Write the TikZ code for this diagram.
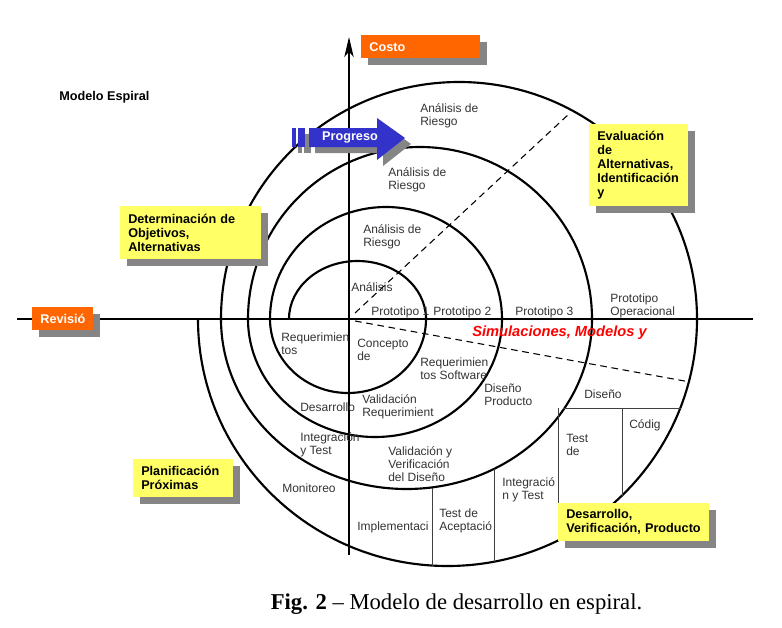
\documentclass[tikz,border=0pt]{standalone}
\usepackage{fontspec}
\setmainfont{Liberation Serif}
\setsansfont{Liberation Sans}
\usetikzlibrary{arrows.meta,shadows}
\definecolor{naranja}{HTML}{FF6600}
\definecolor{amarillo}{HTML}{FFFF66}
\definecolor{azul}{HTML}{3333CC}
\definecolor{sombra}{HTML}{858585}

\begin{document}
\begin{tikzpicture}[x=0.75pt, y=-0.75pt,
  espiral/.style={line width=1.6pt},
  tabla/.style={line width=0.6pt, black!75},
  guia/.style={line width=0.8pt, dash pattern=on 5pt off 3.5pt},
  lbl/.style={anchor=west, inner sep=0pt, align=left, text=black!80,
    font=\sffamily\fontsize{9}{9.8}\selectfont},
  caja/.style={anchor=north west, inner xsep=6pt, inner ysep=0pt, align=left,
    font=\sffamily\bfseries\fontsize{9.5}{10.6}\selectfont,
    drop shadow={shadow xshift=5pt, shadow yshift=-5pt, fill=sombra, opacity=1}},
  amarilla/.style={caja, fill=amarillo},
  naranjo/.style={caja, fill=naranja, text=white}]
\useasboundingbox (0,0) rectangle (782,628);

% ejes
\coordinate (o) at (349,319);
\coordinate (ejeArriba) at (349,37);
\coordinate (ejeAbajo) at (349,555);
\coordinate (ejeIzq) at (17,319);
\coordinate (ejeDer) at (753,319);
\draw[line width=1.5pt] (ejeIzq) -- (ejeDer);
\draw[line width=1.5pt, -{Stealth[length=15pt, width=7pt, inset=4pt]}] (ejeAbajo) -- (ejeArriba);

% espiral
\draw[espiral] (289,319) arc[start angle=180, end angle=360, x radius=68.5, y radius=58]
  arc[start angle=0, end angle=180, x radius=78, y radius=74]
  arc[start angle=180, end angle=360, x radius=116, y radius=112]
  arc[start angle=0, end angle=180, x radius=127, y radius=118]
  arc[start angle=180, end angle=360, x radius=172, y radius=172]
  arc[start angle=0, end angle=180, x radius=185.5, y radius=170]
  arc[start angle=180, end angle=360, x radius=238, y radius=237]
  arc[start angle=0, end angle=180, x radius=249.5, y radius=247];

% divisiones
\coordinate (d1a) at (355,313);
\coordinate (d1b) at (570,113);
\coordinate (d2a) at (355,321);
\coordinate (d2b) at (690,382);
\draw[guia] (d1a) -- (d1b);
\draw[guia] (d2a) -- (d2b);
\draw[tabla] (563,408) -- (681,408);
\draw[tabla] (558,408) -- (558,503);
\draw[tabla] (622,408) -- (622,497);
\draw[tabla] (494,469) -- (494,562);
\draw[tabla] (432,488) -- (432,566);

% textos
\node[font=\sffamily\bfseries\fontsize{9.5}{11}\selectfont, anchor=west, inner sep=0pt] (titulo) at (59,97) {Modelo Espiral};
\node[lbl] (riesgo4) at (420,116) {Análisis de\\Riesgo};
\node[lbl] (riesgo3) at (388,179.5) {Análisis de\\Riesgo};
\node[lbl] (riesgo2) at (363,236.5) {Análisis de\\Riesgo};
\node[lbl] (riesgo1) at (351,287) {Análisis};
\node[lbl] (proto1) at (371,312) {Prototipo 1};
\node[lbl] (proto2) at (433,312) {Prototipo 2};
\node[lbl] (proto3) at (515,312) {Prototipo 3};
\node[lbl] (protoOp) at (610,306) {Prototipo\\Operacional};
\node[lbl] (req) at (281,344) {Requerimien\\tos};
\node[lbl] (concepto) at (357,350) {Concepto\\de};
\node[lbl] (reqSw) at (420,369) {Requerimien\\tos Software};
\node[lbl] (disProd) at (484,394.5) {Diseño\\Producto};
\node[lbl] (desarrollo) at (300,407) {Desarrollo};
\node[lbl] (valReq) at (362,406.5) {Validación\\Requerimient};
\node[lbl] (integ1) at (300,445) {Integración\\y Test};
\node[lbl] (valVer) at (388,464) {Validación y\\Verificación\\del Diseño};
\node[lbl] (monitoreo) at (282,488) {Monitoreo};
\node[lbl] (implem) at (357,527) {Implementaci};
\node[lbl] (testAcep) at (439,520.5) {Test de\\Aceptació};
\node[lbl] (integ2) at (502,489.5) {Integració\\n y Test};
\node[lbl] (diseno) at (584,394) {Diseño};
\node[lbl] (testDe) at (566,445) {Test\\de};
\node[lbl] (codigo) at (629,425) {Códig};
\node[anchor=west, inner sep=0pt, text=red, font=\sffamily\bfseries\itshape\fontsize{11}{13}\selectfont] (simul) at (472,333) {Simulaciones, Modelos y};

% flecha de progreso
\foreach \d/\c in {6/sombra, 0/azul} {
  \fill[\c, shift={(\d,\d)}] (292,128) rectangle (296,147);
  \fill[\c, shift={(\d,\d)}] (298,128) rectangle (305,147);
  \fill[\c, shift={(\d,\d)}] (309,128) -- (377,128) -- (377,118) -- (405,138)
    -- (377,160) -- (377,147) -- (309,147) -- cycle;
}
\node[font=\sffamily\bfseries\fontsize{9.5}{11}\selectfont, text=white] (progreso) at (350,137.5) {Progreso};

% cuadros
\node[naranjo, minimum width=89.25pt, minimum height=17.25pt, text width=77pt] (costo) at (361,35) {Costo};
\node[naranjo, minimum width=45.75pt, minimum height=17.25pt, text width=33.5pt] (revision) at (32,307) {Revisió};
\node[amarilla, minimum width=105.75pt, minimum height=39.75pt, text width=93.75pt] (determ) at (120,206) {Determinación de\\Objetivos,\\Alternativas};
\node[amarilla, minimum width=74.25pt, minimum height=61.5pt, text width=62.25pt] (evalua) at (589,124) {Evaluación\\de\\Alternativas,\\Identificación\\y};
\node[amarilla, minimum width=75pt, minimum height=28.5pt, text width=63pt] (planif) at (133,459) {Planificación\\Próximas};
\node[amarilla, minimum width=113.25pt, minimum height=28.5pt, text width=101.25pt] (desarr) at (558,503) {Desarrollo,\\Verificación, Producto};

% pie
\node[anchor=base, inner sep=0pt, font=\fontsize{17}{20}\selectfont] (pie) at (456.5,609) {\textbf{Fig. 2} -- Modelo de desarrollo en espiral.};
\end{tikzpicture}
\end{document}
